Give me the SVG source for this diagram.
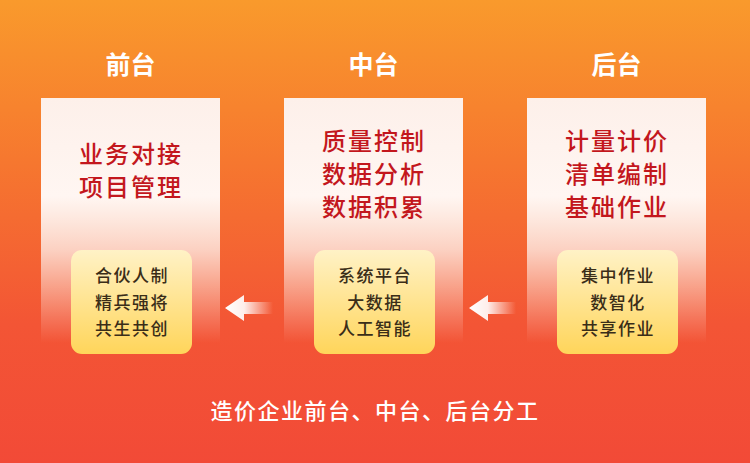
<svg xmlns="http://www.w3.org/2000/svg" width="750" height="463" viewBox="0 0 750 463">
<defs>
<linearGradient id="bg" x1="0" y1="0" x2="0" y2="1">
<stop offset="0" stop-color="#f99a2c"/>
<stop offset="0.35" stop-color="#f6772f"/>
<stop offset="0.7" stop-color="#f35535"/>
<stop offset="1" stop-color="#f24a37"/>
</linearGradient>
<linearGradient id="panel" x1="0" y1="0" x2="0" y2="1">
<stop offset="0" stop-color="#fdf0ea" stop-opacity="1"/>
<stop offset="0.4" stop-color="#fff6f2" stop-opacity="1"/>
<stop offset="0.62" stop-color="#ffffff" stop-opacity="0.7"/>
<stop offset="1" stop-color="#ffffff" stop-opacity="0"/>
</linearGradient>
<linearGradient id="yel" x1="0" y1="0" x2="0" y2="1">
<stop offset="0" stop-color="#fff2c6"/>
<stop offset="1" stop-color="#ffd55a"/>
</linearGradient>
<linearGradient id="arr" x1="0" y1="0" x2="1" y2="0">
<stop offset="0" stop-color="#ffffff" stop-opacity="1"/>
<stop offset="0.4" stop-color="#ffffff" stop-opacity="0.9"/>
<stop offset="1" stop-color="#ffffff" stop-opacity="0"/>
</linearGradient>
</defs>
<style>
.title{font-family:"Noto Sans CJK SC","Noto Sans",sans-serif;font-weight:700;font-size:25px;fill:#ffffff;text-anchor:middle}
.main{font-family:"Noto Sans CJK SC","Noto Sans",sans-serif;font-weight:500;font-size:24px;fill:#c3171d;text-anchor:middle;letter-spacing:2px}
.sub{font-family:"Noto Sans CJK SC","Noto Sans",sans-serif;font-weight:500;font-size:17px;fill:#3a2d18;text-anchor:middle;letter-spacing:1.5px}
.foot{font-family:"Noto Sans CJK SC","Noto Sans",sans-serif;font-weight:500;font-size:22px;fill:#ffffff;text-anchor:middle;letter-spacing:1.5px}
.panel{fill:url(#panel)}
.yel{fill:url(#yel)}
.arrow{fill:url(#arr)}
</style>
<rect x="0" y="0" width="750" height="463" fill="url(#bg)"/>

<g id="front">
<text class="title" x="130.5" y="74">前台</text>
<rect class="panel" x="41" y="98" width="179" height="245"/>
<text class="main" x="131" y="163">业务对接</text>
<text class="main" x="131" y="196">项目管理</text>
<rect class="yel" x="71" y="250" width="121" height="104" rx="11"/>
<text class="sub" x="132" y="282">合伙人制</text>
<text class="sub" x="132" y="309">精兵强将</text>
<text class="sub" x="132" y="335">共生共创</text>
</g>

<g id="middle">
<text class="title" x="373.5" y="74">中台</text>
<rect class="panel" x="284" y="98" width="179" height="245"/>
<text class="main" x="374" y="150">质量控制</text>
<text class="main" x="374" y="183">数据分析</text>
<text class="main" x="374" y="216">数据积累</text>
<rect class="yel" x="314" y="250" width="121" height="104" rx="11"/>
<text class="sub" x="375" y="282">系统平台</text>
<text class="sub" x="375" y="309">大数据</text>
<text class="sub" x="375" y="335">人工智能</text>
</g>

<g id="back">
<text class="title" x="616.5" y="74">后台</text>
<rect class="panel" x="527" y="98" width="179" height="245"/>
<text class="main" x="617" y="150">计量计价</text>
<text class="main" x="617" y="183">清单编制</text>
<text class="main" x="617" y="216">基础作业</text>
<rect class="yel" x="557" y="250" width="121" height="104" rx="11"/>
<text class="sub" x="618" y="282">集中作业</text>
<text class="sub" x="618" y="309">数智化</text>
<text class="sub" x="618" y="335">共享作业</text>
</g>

<g id="connectors">
<path class="arrow" d="M225,308 L244,295 L244,302 L273,302 L273,314 L244,314 L244,321 Z"/>
<path class="arrow" d="M469,308 L488,295 L488,302 L516,302 L516,314 L488,314 L488,321 Z"/>
</g>

<text class="foot" x="375" y="419">造价企业前台、中台、后台分工</text>
</svg>
